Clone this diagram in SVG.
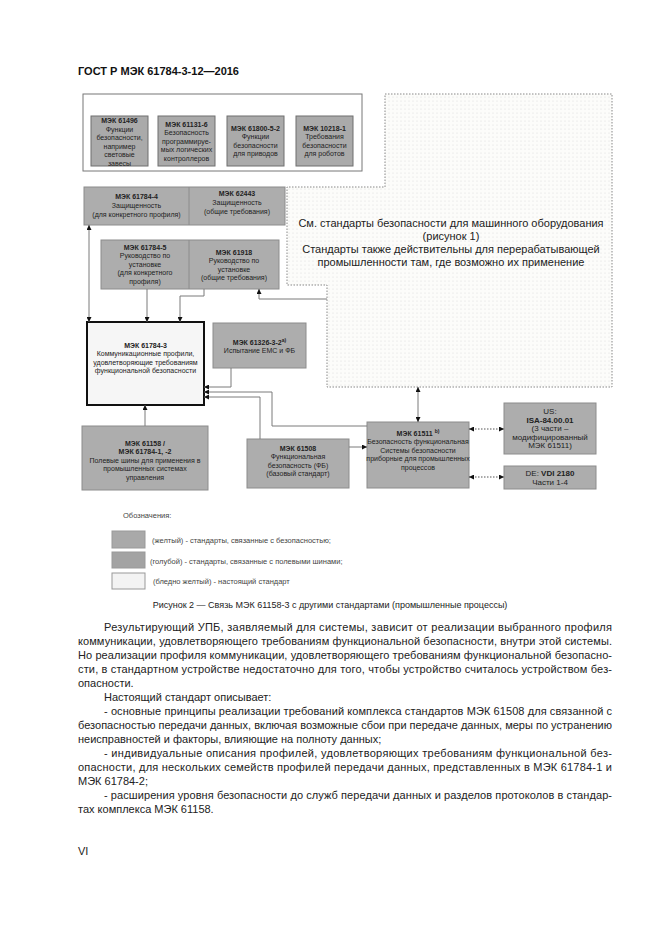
<svg xmlns="http://www.w3.org/2000/svg" width="661" height="935" viewBox="0 0 661 935">
<defs>
<pattern id="dots" width="4" height="4" patternUnits="userSpaceOnUse"><rect width="4" height="4" fill="#fcfcfa"/><circle cx="1" cy="1" r="0.6" fill="#dcdcdc"/></pattern>
<marker id="ah" viewBox="0 0 10 10" refX="10" refY="5" markerWidth="6" markerHeight="5" markerUnits="userSpaceOnUse" orient="auto-start-reverse"><path d="M0,0 L10,5 L0,10 z" fill="#111"/></marker>
</defs>
<style>
text{font-family:"Liberation Sans",Arial,sans-serif;}
.hd{font-size:11px;font-weight:bold;fill:#111;}
.bx{fill:#aaaaaa;stroke:#6f6f6f;stroke-width:1;}
.bx2{fill:#adadad;stroke:#8c8c8c;stroke-width:1;}
.t{font-size:7px;fill:#222;text-anchor:middle;}
.t8{font-size:8px;fill:#222;text-anchor:middle;}
.b{font-weight:bold;}
.big{font-size:11px;fill:#222;text-anchor:middle;}
.lg{font-size:7.5px;fill:#444;}
.cap{font-size:9px;fill:#222;text-anchor:middle;}
.p{font-size:11px;fill:#222;}
.c{fill:none;stroke:#7a7a7a;stroke-width:1;}
.d{fill:none;stroke:#555;stroke-width:1;stroke-dasharray:1.5 1.5;}
</style>
<text class="hd" x="78" y="75">ГОСТ Р МЭК 61784-3-12—2016</text>
<rect x="83" y="94" width="279" height="77" fill="#fff" stroke="#777"/>
<g id="dotted-region">
<path d="M385,94 H612 V387 H327 V285 H287 V187 H385 Z" fill="url(#dots)" stroke="#888" stroke-dasharray="1.5 1.5"/>
<text class="big" x="451" y="227">См. стандарты безопасности для машинного оборудования</text>
<text class="big" x="451" y="240">(рисунок 1)</text>
<text class="big" x="451" y="253">Стандарты также действительны для перерабатывающей</text>
<text class="big" x="451" y="266">промышленности там, где возможно их применение</text>
</g>
<g id="n61496"><rect class="bx" x="91" y="116" width="57" height="50"/>
<text class="t" x="119.5"><tspan class="b" x="119.5" y="123">МЭК 61496</tspan><tspan x="119.5" y="131.5">Функции</tspan><tspan x="119.5" y="140">безопасности,</tspan><tspan x="119.5" y="148.5">например</tspan><tspan x="119.5" y="157">световые</tspan><tspan x="119.5" y="165.5">завесы</tspan></text></g>
<g id="n61131"><rect class="bx" x="158" y="116" width="57" height="50"/>
<text class="t"><tspan class="b" x="186.5" y="126.5">МЭК 61131-6</tspan><tspan x="186.5" y="135">Безопасность</tspan><tspan x="186.5" y="143.5">программируе-</tspan><tspan x="186.5" y="152">мых логических</tspan><tspan x="186.5" y="160.5">контроллеров</tspan></text></g>
<g id="n61800"><rect class="bx" x="227" y="116" width="57" height="50"/>
<text class="t"><tspan class="b" x="255.5" y="130.5">МЭК 61800-5-2</tspan><tspan x="255.5" y="139">Функции</tspan><tspan x="255.5" y="147.5">безопасности</tspan><tspan x="255.5" y="156">для приводов</tspan></text></g>
<g id="n10218"><rect class="bx" x="296" y="116" width="57" height="50"/>
<text class="t"><tspan class="b" x="324.5" y="130.5">МЭК 10218-1</tspan><tspan x="324.5" y="139">Требования</tspan><tspan x="324.5" y="147.5">безопасности</tspan><tspan x="324.5" y="156">для роботов</tspan></text></g>
<g id="n61784-4"><rect class="bx2" x="84" y="187" width="201" height="38"/><line x1="189" y1="187" x2="189" y2="225" stroke="#8c8c8c"/>
<text class="t"><tspan class="b" x="136.5" y="198.5">МЭК 61784-4</tspan><tspan x="136.5" y="207.5">Защищенность</tspan><tspan x="136.5" y="216.5">(для конкретного профиля)</tspan></text>
<text class="t"><tspan class="b" x="237" y="195.5">МЭК 62443</tspan><tspan x="237" y="204.5">Защищенность</tspan><tspan x="237" y="213.5">(общие требования)</tspan></text></g>
<g id="n61784-5"><rect class="bx2" x="101" y="240" width="178" height="49"/><line x1="189" y1="240" x2="189" y2="289" stroke="#8c8c8c"/>
<text class="t"><tspan class="b" x="145" y="249.5">МЭК 61784-5</tspan><tspan x="145" y="258">Руководство по</tspan><tspan x="145" y="266.5">установке</tspan><tspan x="145" y="275">(для конкретного</tspan><tspan x="145" y="283.5">профиля)</tspan></text>
<text class="t"><tspan class="b" x="234" y="254.5">МЭК 61918</tspan><tspan x="234" y="263">Руководство по</tspan><tspan x="234" y="271.5">установке</tspan><tspan x="234" y="280">(общие требования)</tspan></text></g>
<g id="n61784-3"><rect x="87" y="322" width="117" height="83" fill="#f6f6f6" stroke="#111" stroke-width="2"/>
<text class="t"><tspan class="b" x="145.5" y="347.5">МЭК 61784-3</tspan><tspan x="145.5" y="356">Коммуникационные профили,</tspan><tspan x="145.5" y="364.5">удовлетворяющие требованиям</tspan><tspan x="145.5" y="373">функциональной безопасности</tspan></text></g>
<g id="n61326"><rect class="bx2" x="213" y="323" width="93" height="45"/>
<text class="t"><tspan class="b" x="259.5" y="344.5">МЭК 61326-3-2<tspan font-size="5" dy="-3">а)</tspan></tspan><tspan x="259.5" y="353">Испытание ЕМС и ФБ</tspan></text></g>
<g id="n61158"><rect class="bx2" x="82" y="426" width="126" height="64"/>
<text class="t"><tspan class="b" x="145" y="445.5">МЭК 61158 /</tspan><tspan class="b" x="145" y="454">МЭК 61784-1, -2</tspan><tspan x="145" y="462.5">Полевые шины для применения в</tspan><tspan x="145" y="471">промышленных системах</tspan><tspan x="145" y="479.5">управления</tspan></text></g>
<g id="n61508"><rect class="bx2" x="247" y="439" width="102" height="49"/>
<text class="t"><tspan class="b" x="298" y="450.5">МЭК 61508</tspan><tspan x="298" y="459">Функциональная</tspan><tspan x="298" y="467.5">безопасность (ФБ)</tspan><tspan x="298" y="476">(базовый стандарт)</tspan></text></g>
<g id="n61511"><rect class="bx2" x="367" y="422" width="102" height="66"/>
<text class="t"><tspan class="b" x="418" y="435.5">МЭК 61511 <tspan font-size="5" dy="-3">b)</tspan></tspan><tspan x="418" y="444">Безопасность функциональная</tspan><tspan x="418" y="452.5">Системы безопасности</tspan><tspan x="418" y="461">приборные для промышленных</tspan><tspan x="418" y="469.5">процессов</tspan></text></g>
<g id="nUS"><rect class="bx2" x="504" y="403" width="92" height="51"/>
<text class="t8"><tspan x="550" y="414">US:</tspan><tspan class="b" x="550" y="422.5">ISA-84.00.01</tspan><tspan x="550" y="431">(3 части –</tspan><tspan x="550" y="439.5">модифицированный</tspan><tspan x="550" y="448">МЭК 61511)</tspan></text></g>
<g id="nDE"><rect class="bx2" x="504" y="466" width="92" height="23"/>
<text class="t8"><tspan x="550" y="476">DE: <tspan class="b">VDI 2180</tspan></tspan><tspan x="550" y="485">Части 1-4</tspan></text></g>
<g id="connectors">
<path class="c" d="M89,225 V322" marker-start="url(#ah)" marker-end="url(#ah)"/>
<path class="c" d="M147,289 V322" marker-end="url(#ah)"/>
<path class="c" d="M204,289 V296 H180 V322" marker-end="url(#ah)"/>
<path class="c" d="M327,299 H259 V289" marker-end="url(#ah)"/>
<path class="c" d="M231,368 V387 H204" marker-end="url(#ah)"/>
<path class="c" d="M367,426 H272 V392 H204" marker-end="url(#ah)"/>
<path class="c" d="M260,439 V397 H204" marker-end="url(#ah)"/>
<path class="c" d="M145,426 V405" marker-end="url(#ah)"/>
<path class="c" d="M349,447 H367" marker-end="url(#ah)"/>
<path class="c" d="M418,387 V422" stroke="#333" marker-start="url(#ah)" marker-end="url(#ah)"/>
<path class="d" d="M469,429 H504" marker-start="url(#ah)" marker-end="url(#ah)"/>
<path class="d" d="M469,477 H504" marker-start="url(#ah)" marker-end="url(#ah)"/>
</g>
<g id="legend">
<text class="lg" x="123" y="518">Обозначения:</text>
<rect x="112" y="531" width="33" height="17" fill="#a9a9a9" stroke="#999"/>
<text class="lg" x="152" y="543">(желтый) - стандарты, связанные с безопасностью;</text>
<rect x="112" y="552" width="33" height="16" fill="#a3a3a3" stroke="#999"/>
<text class="lg" x="150" y="564">(голубой) - стандарты, связанные с полевыми шинами;</text>
<rect x="112" y="573" width="33" height="16" fill="#f3f3f3" stroke="#999"/>
<text class="lg" x="153" y="584">(бледно желтый) - настоящий стандарт</text>
</g>
<text class="cap" x="330" y="608">Рисунок 2 — Связь МЭК 61158-3 с другими стандартами (промышленные процессы)</text>
<g id="body">
<text class="p" x="104" y="631" textLength="508" lengthAdjust="spacing">Результирующий УПБ, заявляемый для системы, зависит от реализации выбранного профиля</text>
<text class="p" x="78" y="645" textLength="534" lengthAdjust="spacing">коммуникации, удовлетворяющего требованиям функциональной безопасности, внутри этой системы.</text>
<text class="p" x="78" y="659" textLength="534" lengthAdjust="spacing">Но реализации профиля коммуникации, удовлетворяющего требованиям функциональной безопасно-</text>
<text class="p" x="78" y="673" textLength="534" lengthAdjust="spacing">сти, в стандартном устройстве недостаточно для того, чтобы устройство считалось устройством без-</text>
<text class="p" x="78" y="687">опасности.</text>
<text class="p" x="104" y="701">Настоящий стандарт описывает:</text>
<text class="p" x="104" y="715" textLength="508" lengthAdjust="spacing">- основные принципы реализации требований комплекса стандартов МЭК 61508 для связанной с</text>
<text class="p" x="78" y="729" textLength="534" lengthAdjust="spacing">безопасностью передачи данных, включая возможные сбои при передаче данных, меры по устранению</text>
<text class="p" x="78" y="743">неисправностей и факторы, влияющие на полноту данных;</text>
<text class="p" x="104" y="757" textLength="508" lengthAdjust="spacing">- индивидуальные описания профилей, удовлетворяющих требованиям функциональной без-</text>
<text class="p" x="78" y="771" textLength="534" lengthAdjust="spacing">опасности, для нескольких семейств профилей передачи данных, представленных в МЭК 61784-1 и</text>
<text class="p" x="78" y="785">МЭК 61784-2;</text>
<text class="p" x="104" y="799" textLength="508" lengthAdjust="spacing">- расширения уровня безопасности до служб передачи данных и разделов протоколов в стандар-</text>
<text class="p" x="78" y="813">тах комплекса МЭК 61158.</text>
<text class="p" x="78" y="855">VI</text>
</g>
</svg>
